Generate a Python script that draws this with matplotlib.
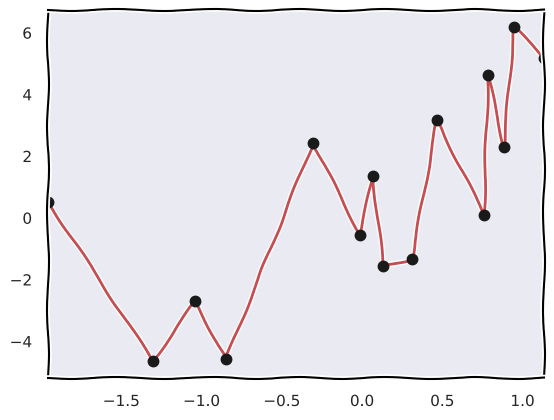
import numpy as np
import matplotlib
matplotlib.use("Agg")
import matplotlib.pyplot as plt
import seaborn as sns

x = [-1.956, -1.302, -1.04, -0.847, -0.305, -0.012, 0.069, 0.131,
     0.312, 0.467, 0.760, 0.785, 0.885, 0.947, 1.134]
y = [0.52, -4.65, -2.71, -4.58, 2.42, -0.55, 1.35, -1.55,
     -1.35, 3.16, 0.10, 4.61, 2.29, 6.19, 5.19]

sns.set_theme(style="darkgrid", color_codes=True)
plt.xkcd()
plt.rcParams['font.family'] = ['DejaVu Sans']
plt.rcParams['axes.unicode_minus'] = True

fig, ax = plt.subplots(figsize=(5.54, 4.2), dpi=100)
ax.plot(x, y, 'r-')
ax.plot(x, y, 'ko', markersize=7.5, path_effects=[])
ax.margins(x=0)
fig.subplots_adjust(left=48/554, right=544/554, top=1-10/420, bottom=1-378/420)
fig.savefig("out.png")
